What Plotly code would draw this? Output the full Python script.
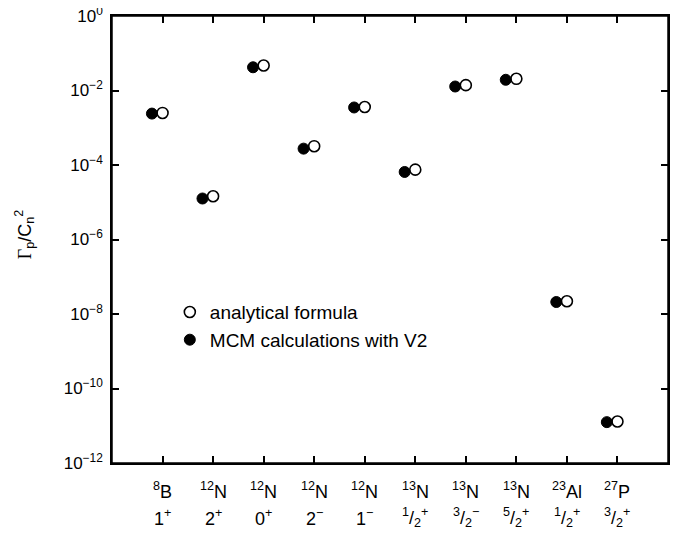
import plotly.graph_objects as go

nuclei = ["<sup>8</sup>B", "<sup>12</sup>N", "<sup>12</sup>N", "<sup>12</sup>N", "<sup>12</sup>N",
          "<sup>13</sup>N", "<sup>13</sup>N", "<sup>13</sup>N", "<sup>23</sup>Al", "<sup>27</sup>P"]
spins = ["1<sup>+</sup>", "2<sup>+</sup>", "0<sup>+</sup>", "2<sup>−</sup>", "1<sup>−</sup>",
         "<sup>1</sup>/<sub>2</sub><sup>+</sup>", "<sup>3</sup>/<sub>2</sub><sup>−</sup>",
         "<sup>5</sup>/<sub>2</sub><sup>+</sup>", "<sup>1</sup>/<sub>2</sub><sup>+</sup>",
         "<sup>3</sup>/<sub>2</sub><sup>+</sup>"]
positions = [1, 2, 3, 4, 5, 6, 7, 8, 9, 10]
analytical = [2.5e-3, 1.45e-5, 4.7e-2, 3.2e-4, 3.6e-3, 7.5e-5, 1.39e-2, 2.06e-2, 2.2e-8, 1.3e-11]
mcm_v2 = [2.4e-3, 1.26e-5, 4.2e-2, 2.75e-4, 3.5e-3, 6.5e-5, 1.28e-2, 1.94e-2, 2.1e-8, 1.25e-11]

ytickvals = [1e0, 1e-2, 1e-4, 1e-6, 1e-8, 1e-10, 1e-12]
yticktext = ["10<sup>0</sup>", "10<sup>−2</sup>", "10<sup>−4</sup>", "10<sup>−6</sup>",
             "10<sup>−8</sup>", "10<sup>−10</sup>", "10<sup>−12</sup>"]

offset = -0.21
font = "Liberation Sans, Arial, Helvetica, sans-serif"

fig = go.Figure()
fig.add_trace(go.Scatter(
    x=positions, y=analytical, mode="markers", name="analytical formula",
    marker=dict(symbol="circle", size=11, color="white", line=dict(color="black", width=1.6)),
))
fig.add_trace(go.Scatter(
    x=[p + offset for p in positions], y=mcm_v2, mode="markers", name="MCM calculations with V2",
    marker=dict(symbol="circle", size=11, color="black", line=dict(color="black", width=1)),
))

for p, n, s in zip(positions, nuclei, spins):
    fig.add_annotation(x=p, y=-0.062, xref="x", yref="paper", text=n, showarrow=False,
                       xanchor="center", yanchor="middle", font=dict(size=18, color="black"))
    fig.add_annotation(x=p, y=-0.122, xref="x", yref="paper", text=s, showarrow=False,
                       xanchor="center", yanchor="middle", font=dict(size=18, color="black"))

fig.add_annotation(x=-0.158, y=0.510, xref="paper", yref="paper",
                   text="<span style='font-family:Liberation Serif'>Γ</span><sub>p</sub>/C<sub>n</sub><sup>2</sup>",
                   showarrow=False, textangle=-90, xanchor="center", yanchor="middle",
                   font=dict(size=18, color="black"))

# plot frame (border of the axes box)
fig.add_shape(type="rect", xref="paper", yref="paper", x0=0, x1=1, y0=0, y1=1,
              line=dict(color="black", width=1.5), fillcolor="rgba(0,0,0,0)", layer="above")

fig.update_layout(
    width=670, height=522,
    margin=dict(l=104, r=10, t=8, b=67),
    paper_bgcolor="white", plot_bgcolor="white",
    font=dict(family=font, size=16, color="black"),
    showlegend=True,
    legend=dict(x=0.104, y=0.38, xanchor="left", yanchor="top",
                bgcolor="rgba(0,0,0,0)", font=dict(size=19), tracegroupgap=0,
                itemwidth=30),
    xaxis=dict(range=[0, 11], tickvals=positions, showticklabels=False,
               ticks="inside", ticklen=7, tickwidth=1.5, tickcolor="black",
               showline=True, linecolor="black", linewidth=1.5, mirror="ticks",
               showgrid=False, zeroline=False, automargin=False),
    yaxis=dict(type="log", range=[-12, 0], tickvals=ytickvals, ticktext=yticktext,
               ticks="inside", ticklen=7, tickwidth=1.5, tickcolor="black",
               showline=True, linecolor="black", linewidth=1.5, mirror="ticks",
               showgrid=False, zeroline=False, tickfont=dict(size=17), automargin=False,
               ticklabelstandoff=4, ticklabeloverflow="allow"),
)

fig.write_html("out.html")
